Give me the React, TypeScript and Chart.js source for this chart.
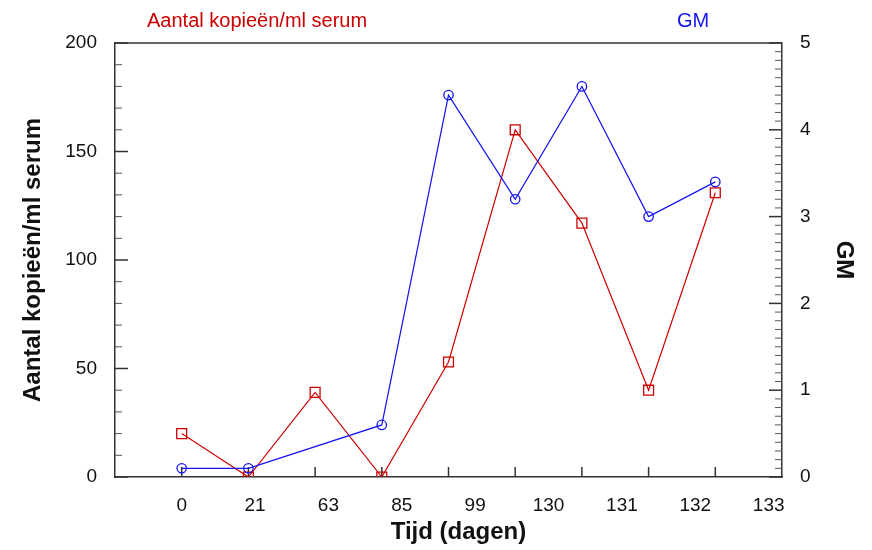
import { useEffect, useRef } from 'react';
import { Chart, registerables } from 'chart.js';

Chart.register(...registerables);

// Sampling days (x-axis labels) and the two measured series per sample
const dayLabels = ['0', '21', '63', '85', '99', '130', '131', '132', '133'];
const copiesPerMl = [20, 0, 39, 0, 53, 160, 117, 40, 131];
const gmIndex: (number | null)[] = [0.1, 0.1, null, 0.6, 4.4, 3.2, 4.5, 3.0, 3.4];

const copiesTicks = [0, 50, 100, 150, 200];
const gmTicks = [0, 1, 2, 3, 4, 5];

const RED = '#cc0000';
const BLUE = '#1414f0';
const AXIS = '#333333';
const TEXT = '#111111';
const FONT = '"Liberation Sans", Arial, Helvetica, sans-serif';

// Day labels are spread a little wider than the sample positions
const LABEL_STEP = 1.1;

const frame = {
  id: 'frame',
  beforeDatasetsDraw(chart: any) {
    const { ctx, chartArea: a, scales } = chart;
    const line = (x1: number, y1: number, x2: number, y2: number) => {
      ctx.beginPath();
      ctx.moveTo(x1, y1);
      ctx.lineTo(x2, y2);
      ctx.stroke();
    };
    ctx.save();
    ctx.strokeStyle = AXIS;
    ctx.lineWidth = 1.5;
    line(a.left, a.top, a.right, a.top);

    // inward tick marks at every sample on the time axis
    copiesPerMl.forEach((_, i) => {
      const px = scales.x.getPixelForValue(i + 1);
      line(px, a.bottom, px, a.bottom - 10);
    });

    // left axis: major every 50, minor every 10
    for (let v = 0; v <= 200; v += 10) {
      const py = scales.y.getPixelForValue(v);
      const major = v % 50 === 0;
      ctx.lineWidth = major ? 1.5 : 1;
      ctx.strokeStyle = major ? AXIS : '#555555';
      line(a.left, py, a.left + (major ? 13 : 7), py);
    }
    // right axis: major every 1, minor every 0.1
    for (let k = 0; k <= 50; k++) {
      const py = scales.y1.getPixelForValue(k / 10);
      const major = k % 10 === 0;
      ctx.lineWidth = major ? 1.5 : 1;
      ctx.strokeStyle = major ? AXIS : '#555555';
      line(a.right, py, a.right - (major ? 13 : 7), py);
    }
    ctx.restore();
  },
  afterDraw(chart: any) {
    const { ctx, chartArea: a } = chart;
    ctx.save();
    ctx.textBaseline = 'alphabetic';
    ctx.textAlign = 'left';
    ctx.font = `20px ${FONT}`;
    ctx.fillStyle = RED;
    ctx.fillText('Aantal kopieën/ml serum', a.left + 32, 27);
    ctx.fillStyle = BLUE;
    ctx.fillText('GM', a.right - 105, 27);

    ctx.fillStyle = TEXT;
    ctx.font = `bold 24px ${FONT}`;
    ctx.textAlign = 'center';
    ctx.textBaseline = 'middle';
    ctx.fillText('Tijd (dagen)', (a.left + a.right) / 2 + 10, 532);

    const midY = (a.top + a.bottom) / 2;
    ctx.save();
    ctx.translate(33, midY);
    ctx.rotate(-Math.PI / 2);
    ctx.fillText('Aantal kopieën/ml serum', 0, 0);
    ctx.restore();

    ctx.save();
    ctx.translate(844, midY);
    ctx.rotate(Math.PI / 2);
    ctx.fillText('GM', 0, 0);
    ctx.restore();
    ctx.restore();
  },
};

export default function App() {
  const ref = useRef<HTMLCanvasElement>(null);

  useEffect(() => {
    document.body.style.margin = '0';
    const canvas = ref.current;
    if (!canvas) return;
    const chart = new Chart(canvas, {
      type: 'line',
      data: {
        datasets: [
          {
            label: 'GM',
            data: gmIndex.map((v, i) => ({ x: i + 1, y: v })),
            yAxisID: 'y1',
            borderColor: BLUE,
            borderWidth: 1.2,
            pointStyle: 'circle',
            pointRadius: 4.7,
            pointBorderWidth: 1.3,
            pointBorderColor: BLUE,
            pointBackgroundColor: 'rgba(255,255,255,0)',
            spanGaps: true,
            tension: 0,
          },
          {
            label: 'Aantal kopieën/ml serum',
            data: copiesPerMl.map((v, i) => ({ x: i + 1, y: v })),
            yAxisID: 'y',
            borderColor: RED,
            borderWidth: 1.2,
            pointStyle: 'rect',
            pointRadius: 7,
            pointBorderWidth: 1.3,
            pointBorderColor: RED,
            pointBackgroundColor: 'rgba(255,255,255,0)',
            tension: 0,
          },
        ],
      },
      options: {
        responsive: false,
        animation: false,
        layout: { padding: { top: 43, left: 0, right: 0, bottom: 0 } },
        plugins: {
          legend: { display: false },
          title: { display: false },
          tooltip: { enabled: false },
        },
        scales: {
          x: {
            type: 'linear',
            min: 0,
            max: 10,
            afterBuildTicks: (scale: any) => {
              scale.ticks = dayLabels.map((_, k) => ({ value: 1 + k * LABEL_STEP }));
            },
            afterFit: (scale: any) => {
              scale.height = 73;
            },
            grid: { display: false, drawTicks: false },
            border: { display: true, color: AXIS, width: 1.5 },
            ticks: {
              autoSkip: false,
              maxRotation: 0,
              padding: 17,
              color: TEXT,
              font: { family: FONT, size: 19 },
              callback: (_v: any, index: number) => dayLabels[index],
            },
          },
          y: {
            type: 'linear',
            position: 'left',
            min: 0,
            max: 200,
            afterBuildTicks: (scale: any) => {
              scale.ticks = copiesTicks.map((v) => ({ value: v }));
            },
            afterFit: (scale: any) => {
              scale.width = 115;
            },
            grid: { display: false, drawTicks: false },
            border: { display: true, color: AXIS, width: 1.5 },
            ticks: {
              padding: 18,
              color: TEXT,
              font: { family: FONT, size: 19 },
            },
          },
          y1: {
            type: 'linear',
            position: 'right',
            min: 0,
            max: 5,
            afterBuildTicks: (scale: any) => {
              scale.ticks = gmTicks.map((v) => ({ value: v }));
            },
            afterFit: (scale: any) => {
              scale.width = 90;
            },
            grid: { display: false, drawTicks: false },
            border: { display: true, color: AXIS, width: 1.5 },
            ticks: {
              padding: 18,
              color: TEXT,
              font: { family: FONT, size: 19 },
            },
          },
        },
      },
      plugins: [frame],
    });
    return () => chart.destroy();
  }, []);

  return <canvas ref={ref} width={872} height={550} style={{ display: 'block' }} />;
}
